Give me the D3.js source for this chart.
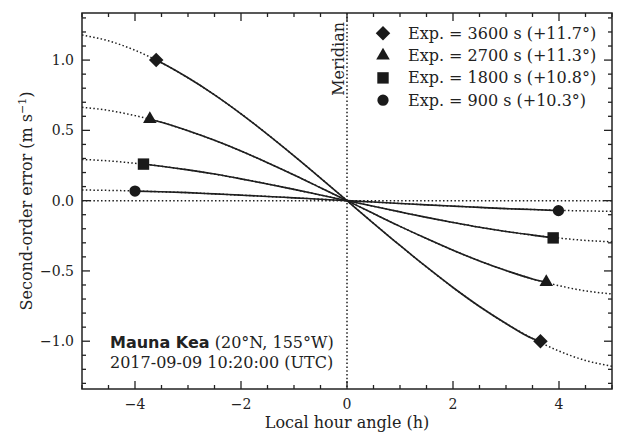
<!DOCTYPE html>
<html>
<head>
<meta charset="utf-8">
<script src="https://cdn.jsdelivr.net/npm/d3@7"></script>
<style>
  body { margin: 0; background: #fff; }
  svg { font-family: "DejaVu Serif", serif; }
  .curve { fill: none; stroke: #1e1e1e; stroke-width: 1.6; }
  .model { fill: none; stroke: #1e1e1e; stroke-width: 1.5; stroke-dasharray: 1.5,2.3; }
</style>
</head>
<body>
<svg id="chart" width="622" height="434"></svg>
<script>
// hour angle samples (h)
const hourAngle = [-5, -4.5, -4, -3.5, -3, -2.5, -2, -1.5, -1, -0.5, 0, 0.5, 1, 1.5, 2, 2.5, 3, 3.5, 4, 4.5, 5];

// second-order error (m/s), one list per exposure
const err3600 = [1.178, 1.137, 1.070, 0.981, 0.874, 0.753, 0.618, 0.472, 0.319, 0.161, 0, -0.161, -0.319, -0.472, -0.618, -0.753, -0.874, -0.981, -1.070, -1.137, -1.178];
const err2700 = [0.664, 0.642, 0.605, 0.557, 0.497, 0.429, 0.353, 0.270, 0.183, 0.092, 0, -0.092, -0.183, -0.270, -0.353, -0.429, -0.497, -0.557, -0.605, -0.642, -0.664];
const err1800 = [0.293, 0.283, 0.266, 0.245, 0.219, 0.189, 0.155, 0.119, 0.080, 0.040, 0, -0.040, -0.080, -0.119, -0.155, -0.189, -0.219, -0.245, -0.266, -0.283, -0.293];
const err900 = [0.076, 0.073, 0.069, 0.063, 0.057, 0.048, 0.039, 0.030, 0.020, 0.010, 0, -0.010, -0.020, -0.030, -0.039, -0.048, -0.057, -0.063, -0.069, -0.073, -0.076];

// exposure start / end markers [x, y]
const ends3600 = [[-3.60, 1.0], [3.65, -1.0]];
const ends2700 = [[-3.72, 0.58], [3.76, -0.58]];
const ends1800 = [[-3.84, 0.26], [3.89, -0.265]];
const ends900 = [[-4.0, 0.068], [3.99, -0.071]];

const legendLabels = ["Exp. = 3600 s (+11.7°)", "Exp. = 2700 s (+11.3°)", "Exp. = 1800 s (+10.8°)", "Exp. = 900 s (+10.3°)"];
const xTicks = [-4, -2, 0, 2, 4];
const yTicks = [-1.0, -0.5, 0.0, 0.5, 1.0];

const series = [
  { values: err3600, ends: ends3600, symbol: d3.symbolDiamond2, size: 135 },
  { values: err2700, ends: ends2700, symbol: d3.symbolTriangle, size: 80 },
  { values: err1800, ends: ends1800, symbol: d3.symbolSquare, size: 130 },
  { values: err900, ends: ends900, symbol: d3.symbolCircle, size: 100 },
];

const svg = d3.select("#chart");
const box = { left: 82, right: 612, top: 13, bottom: 389 };

const x = d3.scaleLinear().domain([-5, 5]).range([box.left, box.right]);
const y = d3.scaleLinear().domain([-1.34, 1.335]).range([box.bottom, box.top]);

svg.append("clipPath").attr("id", "plot-clip")
  .append("rect").attr("x", box.left).attr("y", box.top)
  .attr("width", box.right - box.left).attr("height", box.bottom - box.top);

const plot = svg.append("g").attr("clip-path", "url(#plot-clip)");

// zero line and meridian
plot.append("line").attr("class", "model")
  .attr("x1", box.left).attr("x2", box.right).attr("y1", y(0)).attr("y2", y(0));
plot.append("line").attr("class", "model")
  .attr("x1", x(0)).attr("x2", x(0)).attr("y1", box.top).attr("y2", box.bottom);

const line = d3.line()
  .x((d) => x(d[0]))
  .y((d) => y(d[1]))
  .curve(d3.curveMonotoneX);

series.forEach((s) => {
  const pts = hourAngle.map((h, i) => [h, s.values[i]]);
  plot.append("path").attr("class", "model").attr("d", line(pts));

  // solid part between start and end of exposure
  const inner = pts.filter((p) => p[0] > s.ends[0][0] && p[0] < s.ends[1][0]);
  const solid = [s.ends[0]].concat(inner, [s.ends[1]]);
  plot.append("path").attr("class", "curve").attr("d", line(solid));

  s.ends.forEach((p) => {
    plot.append("path")
      .attr("d", d3.symbol().type(s.symbol).size(s.size)())
      .attr("transform", `translate(${x(p[0])},${y(p[1])})`)
      .attr("fill", "#1a1a1a");
  });
});

// axes with inward ticks on all four sides
const majorLen = 8, minorLen = 4;
const xMinor = d3.range(-5, 5.01, 0.5).filter((v) => !xTicks.includes(v));
const yMinor = d3.range(-1.3, 1.31, 0.1).map((v) => +v.toFixed(1)).filter((v) => !yTicks.includes(v));

const axes = svg.append("g").attr("stroke", "#222").attr("stroke-width", 1.3);
function xTick(v, len) {
  axes.append("line").attr("x1", x(v)).attr("x2", x(v)).attr("y1", box.bottom).attr("y2", box.bottom - len);
  axes.append("line").attr("x1", x(v)).attr("x2", x(v)).attr("y1", box.top).attr("y2", box.top + len);
}
function yTick(v, len) {
  axes.append("line").attr("y1", y(v)).attr("y2", y(v)).attr("x1", box.left).attr("x2", box.left + len);
  axes.append("line").attr("y1", y(v)).attr("y2", y(v)).attr("x1", box.right).attr("x2", box.right - len);
}
xTicks.forEach((v) => xTick(v, majorLen));
xMinor.forEach((v) => xTick(v, minorLen));
yTicks.forEach((v) => yTick(v, majorLen));
yMinor.forEach((v) => yTick(v, minorLen));

axes.append("rect").attr("x", box.left).attr("y", box.top)
  .attr("width", box.right - box.left).attr("height", box.bottom - box.top)
  .attr("fill", "none").attr("stroke-width", 1.5);

const fmtX = (v) => (v < 0 ? "\u2212" + Math.abs(v) : String(v));
const fmtY = (v) => (v < 0 ? "\u2212" : "") + Math.abs(v).toFixed(1);

svg.append("g").selectAll("text").data(xTicks).enter().append("text")
  .attr("x", (d) => x(d)).attr("y", box.bottom + 20)
  .attr("text-anchor", "middle").attr("font-size", 14).attr("fill", "#222")
  .text(fmtX);

svg.append("g").selectAll("text").data(yTicks).enter().append("text")
  .attr("x", box.left - 8).attr("y", (d) => y(d) + 5)
  .attr("text-anchor", "end").attr("font-size", 14).attr("fill", "#222")
  .text(fmtY);

// axis labels
svg.append("text")
  .attr("x", (box.left + box.right) / 2).attr("y", 428)
  .attr("text-anchor", "middle").attr("font-size", 16).attr("fill", "#222")
  .text("Local hour angle (h)");

const ylab = svg.append("text")
  .attr("transform", `translate(32,${(box.top + box.bottom) / 2}) rotate(-90)`)
  .attr("text-anchor", "middle").attr("font-size", 16).attr("fill", "#222");
ylab.append("tspan").text("Second-order error (m s");
ylab.append("tspan").attr("font-size", 11).attr("dy", -6).text("\u22121");
ylab.append("tspan").attr("dy", 6).text(")");

// meridian label
svg.append("text")
  .attr("transform", `translate(${x(0) - 3},22) rotate(-90)`)
  .attr("text-anchor", "end").attr("font-size", 16).attr("fill", "#222")
  .text("Meridian");

// legend
const legend = svg.append("g");
legendLabels.forEach((label, i) => {
  const ly = 33.3 + i * 22.3;
  legend.append("path")
    .attr("d", d3.symbol().type(series[i].symbol).size(series[i].size)())
    .attr("transform", `translate(383,${ly})`)
    .attr("fill", "#1a1a1a");
  legend.append("text")
    .attr("x", 408).attr("y", ly + 5.5)
    .attr("font-size", 16).attr("fill", "#222")
    .text(label);
});

// site annotation
const site = svg.append("text").attr("x", 110).attr("y", 348)
  .attr("font-size", 16).attr("fill", "#222");
site.append("tspan").attr("font-family", "DejaVu Sans").attr("font-weight", "bold").text("Mauna Kea");
site.append("tspan").text(" (20°N, 155°W)");
svg.append("text").attr("x", 110).attr("y", 368)
  .attr("font-size", 16).attr("fill", "#222")
  .text("2017-09-09 10:20:00 (UTC)");
</script>
</body>
</html>
